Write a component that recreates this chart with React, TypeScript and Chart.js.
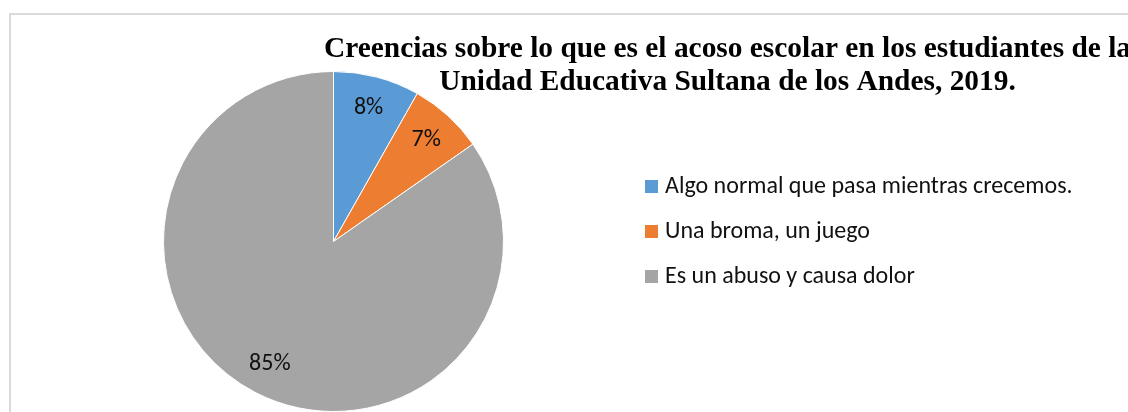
import React, { useEffect, useRef } from "react";
import { Chart, registerables } from "chart.js";

Chart.register(...registerables);

const categories = [
  "Algo normal que pasa mientras crecemos.",
  "Una broma, un juego",
  "Es un abuso y causa dolor",
];
const values = [8.2, 7.1, 84.7];
const colors = ["#5B9BD5", "#ED7D31", "#A5A5A5"];
const titleLines = [
  "Creencias sobre lo que es el acoso escolar en los estudiantes de la",
  "Unidad Educativa Sultana de los Andes, 2019.",
];

const W = 1128;
const H = 412;
const LABEL_FONT = "24px Carlito, Lato, 'Noto Sans', sans-serif";
const TITLE_FONT = "bold 29.4px 'Liberation Serif', 'Times New Roman', serif";

const decorPlugin = {
  id: "decor",
  beforeDraw(chart: any) {
    const ctx = chart.ctx;
    ctx.save();
    ctx.fillStyle = "#ffffff";
    ctx.fillRect(0, 0, chart.width, chart.height);
    ctx.strokeStyle = "#d9d9d9";
    ctx.lineWidth = 2;
    ctx.strokeRect(10, 14, chart.width + 40, chart.height + 40);
    ctx.restore();
  },
  afterDatasetsDraw(chart: any) {
    const ctx = chart.ctx;
    const meta = chart.getDatasetMeta(0);
    const data = chart.data.datasets[0].data as number[];
    const total = data.reduce((a, b) => a + b, 0);
    ctx.save();
    ctx.font = LABEL_FONT;
    ctx.fillStyle = "#111111";
    ctx.textAlign = "center";
    ctx.textBaseline = "middle";
    meta.data.forEach((arc: any, i: number) => {
      const p = arc.getProps(["x", "y", "startAngle", "endAngle", "outerRadius"], true);
      const mid = (p.startAngle + p.endAngle) / 2;
      const r = p.outerRadius * 0.81;
      const x = p.x + Math.cos(mid) * r;
      const y = p.y + Math.sin(mid) * r;
      ctx.fillText(Math.round((data[i] / total) * 100) + "%", x, y);
    });
    ctx.restore();
  },
  afterDraw(chart: any) {
    const ctx = chart.ctx;
    ctx.save();
    // title
    ctx.font = TITLE_FONT;
    ctx.fillStyle = "#000000";
    ctx.textAlign = "center";
    ctx.textBaseline = "alphabetic";
    ctx.fillText(titleLines[0], 727.5, 57);
    ctx.fillText(titleLines[1], 727.5, 90);
    // legend
    const labels = chart.data.labels as string[];
    const bg = chart.data.datasets[0].backgroundColor as string[];
    ctx.font = LABEL_FONT;
    ctx.textAlign = "left";
    ctx.textBaseline = "alphabetic";
    labels.forEach((lab, i) => {
      const cy = 187 + i * 45;
      ctx.fillStyle = bg[i];
      ctx.fillRect(645, cy - 7, 13, 13);
      ctx.fillStyle = "#111111";
      ctx.fillText(lab, 665, cy + 6);
    });
    ctx.restore();
  },
};

export default function App() {
  const ref = useRef<HTMLCanvasElement | null>(null);
  useEffect(() => {
    document.body.style.margin = "0";
    if (!ref.current) return;
    const chart = new Chart(ref.current, {
      type: "pie",
      data: {
        labels: categories,
        datasets: [
          {
            data: values,
            backgroundColor: colors,
            borderColor: "#ffffff",
            borderWidth: 1,
          },
        ],
      },
      options: {
        responsive: false,
        animation: false,
        devicePixelRatio: 1,
        layout: { padding: { left: 163, right: 624, top: 71, bottom: 0 } },
        plugins: {
          legend: { display: false },
          title: { display: false },
          tooltip: { enabled: false },
        },
      },
      plugins: [decorPlugin],
    });
    return () => chart.destroy();
  }, []);
  return (
    <div style={{ position: "fixed", left: 0, top: 0, width: W, height: H, background: "#fff" }}>
      <canvas ref={ref} width={W} height={H} style={{ display: "block" }} />
    </div>
  );
}
